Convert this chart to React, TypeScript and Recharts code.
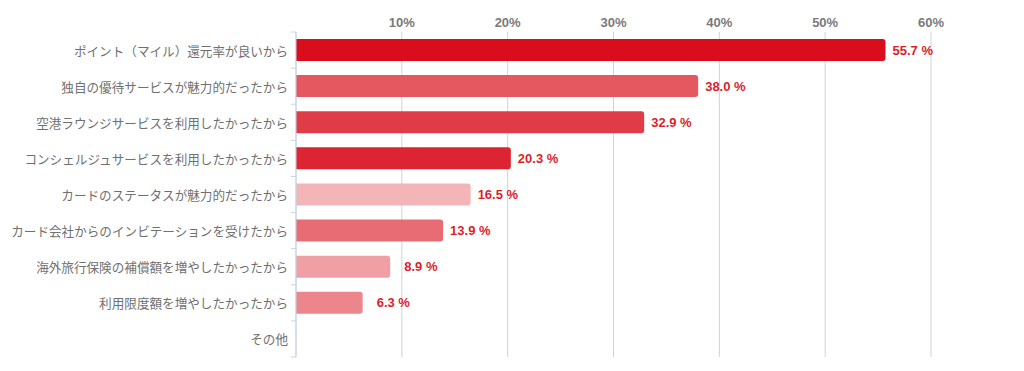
import React from "react";
import { BarChart, Bar, XAxis, YAxis, CartesianGrid, Cell, LabelList } from "recharts";

if (typeof document !== "undefined") {
  document.body.style.margin = "0";
}

const categories = [
  "ポイント（マイル）還元率が良いから",
  "独自の優待サービスが魅力的だったから",
  "空港ラウンジサービスを利用したかったから",
  "コンシェルジュサービスを利用したかったから",
  "カードのステータスが魅力的だったから",
  "カード会社からのインビテーションを受けたから",
  "海外旅行保険の補償額を増やしたかったから",
  "利用限度額を増やしたかったから",
  "その他",
];
const values: (number | null)[] = [55.7, 38.0, 32.9, 20.3, 16.5, 13.9, 8.9, 6.3, null];
const barColors = [
  "#d90d1b",
  "#e55860",
  "#e03c48",
  "#dc2432",
  "#f3b5b8",
  "#e86c74",
  "#f0a0a5",
  "#ec868c",
  "#ec868c",
];
const xTicks = [10, 20, 30, 40, 50, 60];

const data = categories.map((name, i) => ({ name, value: values[i] }));

const W = 1024;
const H = 371;
const M = { top: 0, right: 93, bottom: 14, left: 0 };
const X_AXIS_H = 32;
const Y_AXIS_W = 296;
const BAND = (H - M.top - M.bottom - X_AXIS_H) / categories.length;

const CatTick = (props: any) => {
  const { x, y, payload, index } = props;
  const ax = M.left + Y_AXIS_W;
  return (
    <g>
      <line x1={ax - 5} x2={ax} y1={y - BAND / 2} y2={y - BAND / 2} stroke="#c3d5ea" />
      {index === categories.length - 1 && (
        <line x1={ax - 5} x2={ax} y1={y + BAND / 2} y2={y + BAND / 2} stroke="#c3d5ea" />
      )}
      <text
        x={x}
        y={y}
        textAnchor="end"
        dominantBaseline="central"
        fill="#707070"
        fontSize={12.6}
        fontFamily="'Noto Sans CJK JP', sans-serif"
      >
        {payload.value}
      </text>
    </g>
  );
};

const ValueLabel = (props: any) => {
  const { x, y, width, height, value } = props;
  if (value === null || value === undefined) return null;
  const off = value < 10 ? 14 : 7;
  return (
    <text
      x={x + width + off}
      y={y + height / 2}
      dominantBaseline="central"
      fill="#dc1e2a"
      fontSize={13}
      fontWeight="bold"
      fontFamily="'Liberation Sans', Arial, sans-serif"
    >
      {value.toFixed(1)} %
    </text>
  );
};

export default function App() {
  return (
    <div style={{ width: W, height: H, background: "#fff" }}>
      <BarChart width={W} height={H} data={data} layout="vertical" margin={M}>
        <CartesianGrid horizontal={false} stroke="#d2d2d2" />
        <XAxis
          type="number"
          orientation="top"
          domain={[0, 60]}
          ticks={xTicks}
          tickFormatter={(v: number) => `${v}%`}
          axisLine={false}
          tickLine={false}
          tickSize={0}
          tickMargin={5}
          height={X_AXIS_H}
          tick={{ fill: "#7a7a7a", fontSize: 13, fontWeight: "bold", fontFamily: "'Liberation Sans', Arial, sans-serif" }}
        />
        <YAxis
          type="category"
          dataKey="name"
          width={Y_AXIS_W}
          axisLine={{ stroke: "#c3d5ea" }}
          tickLine={false}
          tick={<CatTick />}
          interval={0}
        />
        <Bar dataKey="value" barSize={22} radius={[0, 3, 3, 0]} isAnimationActive={false}>
          {data.map((_, i) => (
            <Cell key={i} fill={barColors[i]} />
          ))}
          <LabelList dataKey="value" content={<ValueLabel />} />
        </Bar>
      </BarChart>
    </div>
  );
}
